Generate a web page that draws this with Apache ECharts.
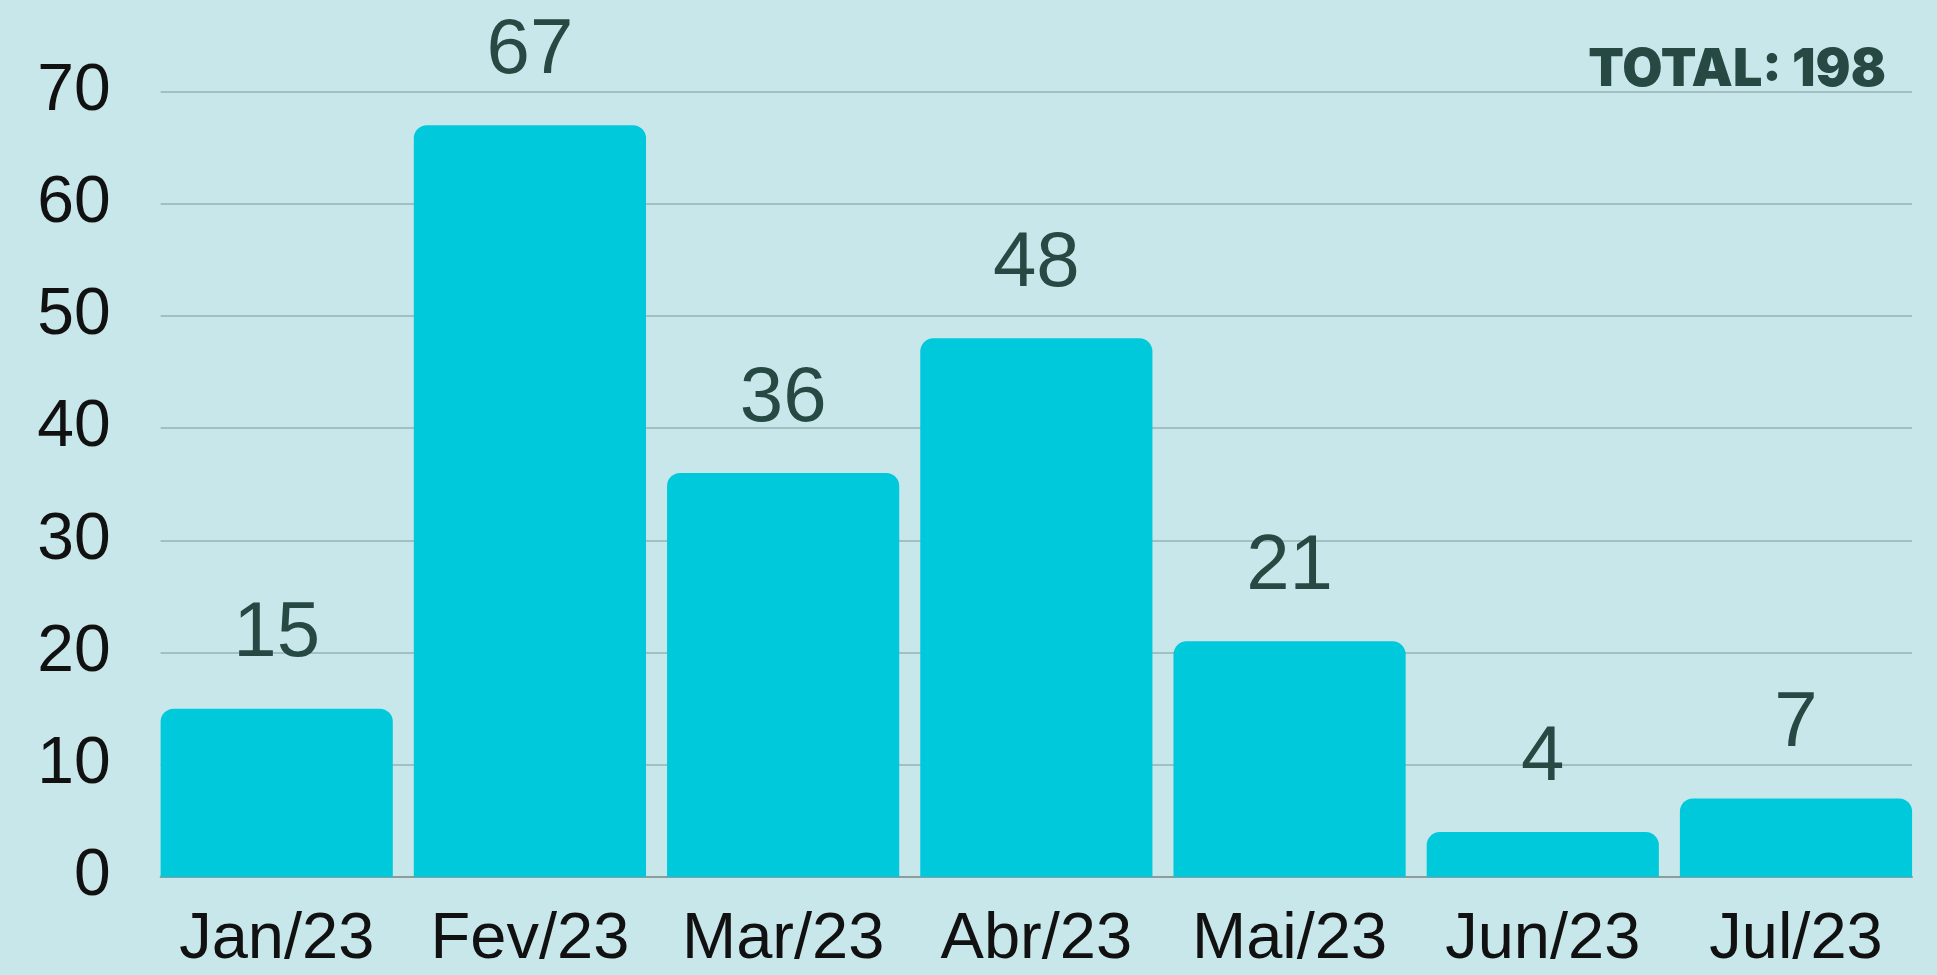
<!DOCTYPE html>
<html>
  <head>
    <meta charset="utf-8" />
    <title>Total por mês</title>
    <style>
      html, body { margin: 0; padding: 0; background: #c8e7ea; }
      #chart { width: 1937px; height: 975px; }
    </style>
  </head>
  <body>
    <script type="text/javascript" src="https://cdn.jsdelivr.net/npm/echarts@6/dist/echarts.min.js"></script>
    <div id="chart"></div>
    <script type="text/javascript">
      var months = ["Jan/23", "Fev/23", "Mar/23", "Abr/23", "Mai/23", "Jun/23", "Jul/23"];
      var counts = [15, 67, 36, 48, 21, 4, 7];
      var yMin = 0;
      var yMax = 70;
      var yStep = 10;

      var total = counts.reduce(function (a, b) { return a + b; }, 0);

      var myChart = echarts.init(document.getElementById("chart"));

      var option = {
        backgroundColor: "#c8e7ea",
        animation: false,
        graphic: [
          {
            type: "text",
            right: 51,
            top: 44,
            style: {
              text: "TOTAL: " + total,
              fill: "#264a43",
              font: "900 52px Inter",
            },
          },
        ],
        grid: [
          // grid for the value lines, spans bar edge to bar edge
          { left: 160.6, right: 25, top: 91.5, bottom: 98 },
          // grid for the bars and month labels
          { left: 150.1, right: 14.4, top: 91.5, bottom: 98 },
        ],
        xAxis: [
          {
            gridIndex: 0,
            type: "value",
            min: 0,
            max: 1,
            axisLine: { show: true, lineStyle: { color: "#8e9c9c", width: 2 } },
            axisTick: { show: false },
            axisLabel: { show: false },
            splitLine: { show: false },
          },
          {
            gridIndex: 1,
            type: "category",
            data: months,
            axisLine: { show: false },
            axisTick: { show: false },
            axisLabel: {
              interval: 0,
              color: "#111",
              fontFamily: "Liberation Sans",
              fontSize: 65,
              margin: 31,
            },
          },
        ],
        yAxis: [
          {
            gridIndex: 0,
            type: "value",
            min: yMin,
            max: yMax,
            interval: yStep,
            axisLine: { show: false },
            axisTick: { show: false },
            axisLabel: {
              color: "#111",
              fontFamily: "Liberation Sans",
              fontSize: 66,
              margin: 50,
            },
            splitLine: { lineStyle: { color: "#a2bfc2", width: 2 } },
          },
          {
            gridIndex: 1,
            type: "value",
            min: yMin,
            max: yMax,
            interval: yStep,
            show: false,
          },
        ],
        series: [
          {
            type: "bar",
            xAxisIndex: 1,
            yAxisIndex: 1,
            data: counts,
            barCategoryGap: "8.3%",
            itemStyle: {
              color: "#00c9dc",
              borderRadius: [13, 13, 0, 0],
            },
            label: {
              show: true,
              position: "top",
              distance: 35,
              color: "#264a43",
              fontFamily: "Liberation Sans",
              fontSize: 78,
            },
          },
        ],
      };

      myChart.setOption(option);

      window.addEventListener("resize", function () {
        myChart.resize();
      });
    </script>
  </body>
</html>
